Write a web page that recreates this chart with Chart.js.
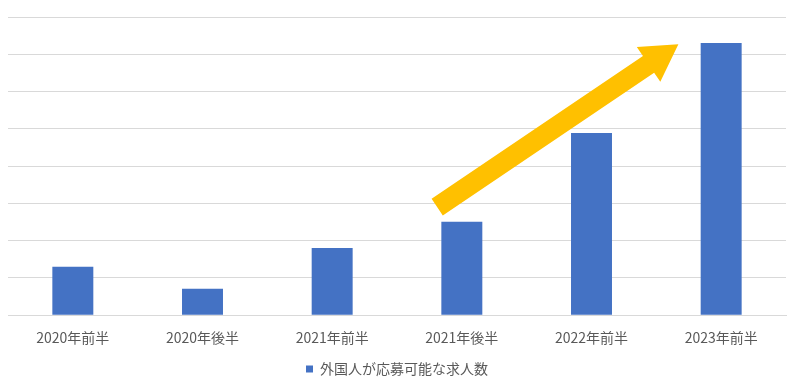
<!DOCTYPE html>
<html>
<head>
<meta charset="utf-8">
<script src="https://cdn.jsdelivr.net/npm/chart.js@4/dist/chart.umd.min.js"></script>
<style>
  html, body { margin: 0; padding: 0; background: #fff; }
  #wrap { width: 800px; height: 386px; }
</style>
</head>
<body>
<div id="wrap"><canvas id="chart" width="800" height="386"></canvas></div>
<script>
const categories = ["2020年前半", "2020年後半", "2021年前半", "2021年後半", "2022年前半", "2023年前半"];
const seriesName = "外国人が応募可能な求人数";
const jobCounts = [1.3, 0.71, 1.8, 2.51, 4.89, 7.3];
// trend arrow, in data units (category index, value)
const arrowFrom = [2.81, 2.9];
const arrowTo = [4.67, 7.27];

const fontFamily = "'Noto Sans CJK JP', 'Noto Sans', sans-serif";

const trendArrow = {
    id: 'trendArrow',
    afterDatasetsDraw(chart) {
        const { ctx, scales: { x, y } } = chart;
        const x0 = x.getPixelForValue(arrowFrom[0]), y0 = y.getPixelForValue(arrowFrom[1]);
        const x1 = x.getPixelForValue(arrowTo[0]), y1 = y.getPixelForValue(arrowTo[1]);
        const ang = Math.atan2(y1 - y0, x1 - x0);
        const len = Math.hypot(x1 - x0, y1 - y0);
        const shaft = 10, head = 21, headLen = 36;
        ctx.save();
        ctx.translate(x0, y0);
        ctx.rotate(ang);
        ctx.beginPath();
        ctx.moveTo(0, -shaft);
        ctx.lineTo(len - headLen, -shaft);
        ctx.lineTo(len - headLen, -head);
        ctx.lineTo(len, 0);
        ctx.lineTo(len - headLen, head);
        ctx.lineTo(len - headLen, shaft);
        ctx.lineTo(0, shaft);
        ctx.closePath();
        ctx.fillStyle = '#FFC000';
        ctx.fill();
        ctx.restore();
    }
};

new Chart(document.getElementById('chart'), {
    type: 'bar',
    data: {
        labels: categories,
        datasets: [{
            label: seriesName,
            data: jobCounts,
            backgroundColor: '#4472C4',
            categoryPercentage: 1,
            barPercentage: 0.316
        }]
    },
    options: {
        responsive: false,
        animation: false,
        layout: { padding: { left: 8, right: 14, top: 17, bottom: 0 } },
        plugins: {
            legend: {
                position: 'bottom',
                labels: {
                    boxWidth: 7,
                    boxHeight: 7,
                    color: '#595959',
                    font: { family: fontFamily, size: 14 },
                    padding: 10
                }
            },
            tooltip: { enabled: false }
        },
        scales: {
            x: {
                grid: { display: false },
                border: { color: '#d9d9d9' },
                ticks: { color: '#595959', font: { family: fontFamily, size: 14 }, padding: 6 }
            },
            y: {
                min: 0,
                max: 8,
                ticks: { display: false, stepSize: 1 },
                grid: { color: '#d9d9d9', drawTicks: false },
                border: { display: false }
            }
        }
    },
    plugins: [trendArrow]
});
</script>
</body>
</html>
